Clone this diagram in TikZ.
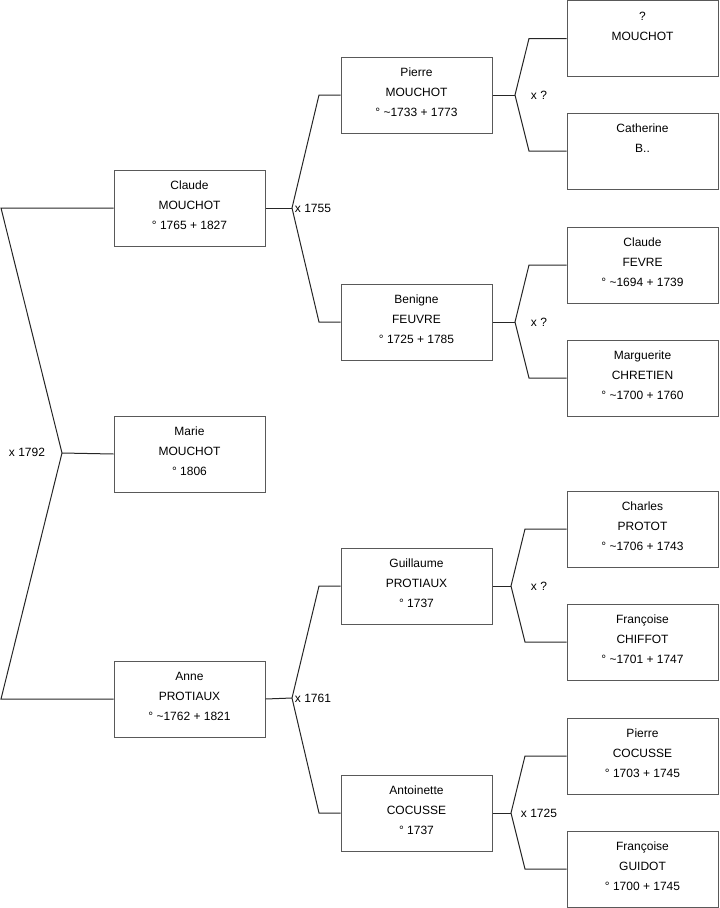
\documentclass[tikz,border=0pt]{standalone}
\usepackage{fontspec}
\setmainfont{Liberation Sans}
\usetikzlibrary{positioning}
\newcommand{\apx}{\textasciitilde}
\tikzset{
  person/.style={draw=black!65, line width=0.75pt, minimum width=113.25pt,
                 minimum height=57pt, inner sep=0pt, align=center,
                 text depth=4pt, font=\fontsize{9}{15}\selectfont},
  link/.style={draw=black!85, line width=0.75pt},
  union/.style={font=\fontsize{9}{11}\selectfont, inner sep=1pt},
}
\begin{document}
\begin{tikzpicture}[x=0.75pt, y=-0.75pt]
\useasboundingbox (0,0) rectangle (719,908);

% Child
\node[person] (marie) at (189.5,454) {Marie\\MOUCHOT\\° 1806};

% Parents
\node[person] (claude) at (189.5,208) {Claude\\MOUCHOT\\° 1765 + 1827};
\node[person] (anne) at (189.5,699) {Anne\\PROTIAUX\\° \apx1762 + 1821};

% Grandparents
\node[person] (pierre) at (416.5,95) {Pierre\\MOUCHOT\\° \apx1733 + 1773};
\node[person] (benigne) at (416.5,322) {Benigne\\FEUVRE\\° 1725 + 1785};
\node[person] (guillaume) at (416.5,586) {Guillaume\\PROTIAUX\\° 1737};
\node[person] (antoinette) at (416.5,813) {Antoinette\\COCUSSE\\° 1737};

% Great-grandparents
\node[person] (qmouchot) at (642.5,38.5) {?\\MOUCHOT\\\mbox{}};
\node[person] (catherine) at (642.5,151) {Catherine\\B..\\\mbox{}};
\node[person] (claudef) at (642.5,265) {Claude\\FEVRE\\° \apx1694 + 1739};
\node[person] (marguerite) at (642.5,378) {Marguerite\\CHRETIEN\\° \apx1700 + 1760};
\node[person] (charles) at (642.5,529) {Charles\\PROTOT\\° \apx1706 + 1743};
\node[person] (francoisec) at (642.5,642) {Françoise\\CHIFFOT\\° \apx1701 + 1747};
\node[person] (pierrec) at (642.5,756) {Pierre\\COCUSSE\\° 1703 + 1745};
\node[person] (francoiseg) at (642.5,869) {Françoise\\GUIDOT\\° 1700 + 1745};

% Marriage of the parents
\coordinate (u1) at (62,453);
\draw[link] (marie.west) -- (u1);
\draw[link] (claude.west) -- (claude.west -| 1,0) -- (u1)
            -- (anne.west -| 1,0) -- (anne.west);
\node[union] at (27,452) {x 1792};

% Marriages of the grandparents
\coordinate (u2) at (292,208);
\draw[link] (claude.east) -- (u2);
\draw[link] (pierre.west) -- (pierre.west -| 319,0) -- (u2)
            -- (benigne.west -| 319,0) -- (benigne.west);
\node[union] at (313,208) {x 1755};

\coordinate (u3) at (292,698);
\draw[link] (anne.east) -- (u3);
\draw[link] (guillaume.west) -- (guillaume.west -| 319,0) -- (u3)
            -- (antoinette.west -| 319,0) -- (antoinette.west);
\node[union] at (313,698) {x 1761};

% Marriages of the great-grandparents
\foreach \kid/\fa/\mo/\vx/\ex/\lab in {
    pierre/qmouchot/catherine/515/529/x ?,
    benigne/claudef/marguerite/515/529/x ?,
    guillaume/charles/francoisec/511/525/x ?,
    antoinette/pierrec/francoiseg/511/525/x 1725}{
  \coordinate (v) at (\kid.east -| \vx,0);
  \draw[link] (\kid.east) -- (v);
  \draw[link] (\fa.west) -- (\fa.west -| \ex,0) -- (v)
              -- (\mo.west -| \ex,0) -- (\mo.west);
  \node[union] at (v -| 539,0) {\lab};
}

\end{tikzpicture}
\end{document}
